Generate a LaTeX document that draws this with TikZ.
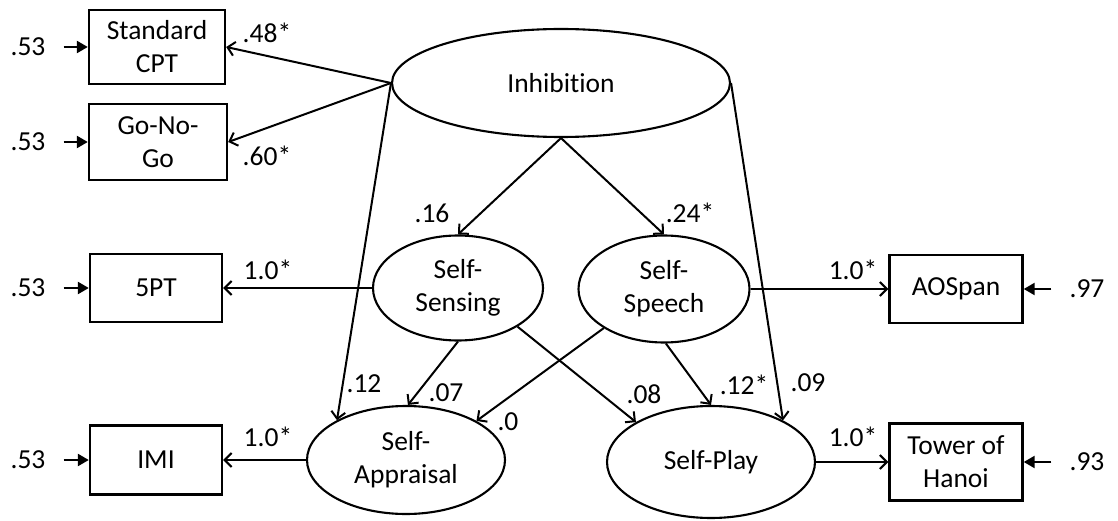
\documentclass[tikz,border=0pt]{standalone}
\usepackage{fontspec}
\setmainfont{Carlito}[Ligatures=NoCommon]
\usetikzlibrary{shapes.geometric,arrows.meta}
\begin{document}
\begin{tikzpicture}[x=1pt,y=-1pt,
  every node/.style={font=\fontsize{27.5}{33}\selectfont},
  latent/.style={draw,line width=2.1pt,ellipse,inner sep=0pt,align=center},
  observed/.style={draw,line width=2.4pt,rectangle,inner sep=0pt,align=center},
  lab/.style={inner sep=0pt},
  errlab/.style={inner ysep=0pt,inner xsep=18pt},
  path/.style={line width=2pt,-{Straight Barb[length=7pt,width=14pt,line width=2pt]}},
  errarr/.style={line width=2.4pt,-{Triangle[length=11pt,width=12pt]}}]
\useasboundingbox (0,0) rectangle (1118,521);

% latent variables
\node[latent,minimum width=338pt,minimum height=108pt] (inh) at (561,83) {Inhibition};
\node[latent,minimum width=170pt,minimum height=105pt] (sens) at (458,288) {Self-\\Sensing};
\node[latent,minimum width=171pt,minimum height=107pt] (spch) at (664,289) {Self-\\Speech};
\node[latent,minimum width=198pt,minimum height=108pt] (appr) at (406,460) {Self-\\Appraisal};
\node[latent,minimum width=208pt,minimum height=112pt] (play) at (711,462) {Self-Play};

% observed indicators
\node[observed,minimum width=136pt,minimum height=74pt] (cpt) at (157,47) {Standard\\CPT};
\node[observed,minimum width=138pt,minimum height=76pt] (gng) at (158,142) {Go-No-\\Go};
\node[observed,minimum width=132pt,minimum height=68pt] (fpt) at (156,288) {5PT};
\node[observed,minimum width=132pt,minimum height=69pt] (imi) at (156,460) {IMI};
\node[observed,minimum width=133pt,minimum height=68pt] (aos) at (956,289) {AOSpan};
\node[observed,minimum width=133pt,minimum height=77pt] (toh) at (956,462) {Tower of\\Hanoi};

% error terms
\node[errlab] (e1) at (28,47) {.53};
\node[errlab] (e2) at (28,142) {.53};
\node[errlab] (e3) at (28,288) {.53};
\node[errlab] (e4) at (28,460) {.53};
\node[errlab] (e5) at (1087,289) {.97};
\node[errlab] (e6) at (1087,462) {.93};
\foreach \e/\b in {e1/cpt,e2/gng,e3/fpt,e4/imi,e5/aos,e6/toh}
  \draw[errarr] (\e) -- (\b);

% loadings of Inhibition
\draw[path] (inh.west) -- (cpt.east);
\draw[path] (inh.west) -- (gng.east);
\draw[path] (inh.west) -- (appr.150);
\draw[path] (inh.east) -- (play.30);
\draw[path] (inh.south) -- (sens.north);
\draw[path] (inh.south) -- (spch.north);

% loadings of the self-regulation factors
\draw[path] (sens.west) -- (fpt.east);
\draw[path] (appr.west) -- (imi.east);
\draw[path] (spch.east) -- (aos.west);
\draw[path] (play.east) -- (toh.west);

% paths between self-regulation factors
\draw[path] (sens.south) -- (appr.88);
\draw[path] (sens.-33) -- (play.152);
\draw[path] (spch.213) -- (appr.29);
\draw[path] (spch.-88) -- (play.north);

% coefficients
\node[lab] (c1) at (267,33) {.48*};
\node[lab] (c2) at (267,156) {.60*};
\node[lab] (c3) at (432,213) {.16};
\node[lab] (c4) at (690,213) {.24*};
\node[lab] (c5) at (268,270) {1.0*};
\node[lab] (c6) at (268,437) {1.0*};
\node[lab] (c7) at (853,270) {1.0*};
\node[lab] (c8) at (853,437) {1.0*};
\node[lab] (c9) at (364,384) {.12};
\node[lab] (c10) at (446,393) {.07};
\node[lab] (c11) at (508,422) {.0};
\node[lab] (c12) at (644,394) {.08};
\node[lab] (c13) at (744,385) {.12*};
\node[lab] (c14) at (808,383) {.09};
\end{tikzpicture}
\end{document}
